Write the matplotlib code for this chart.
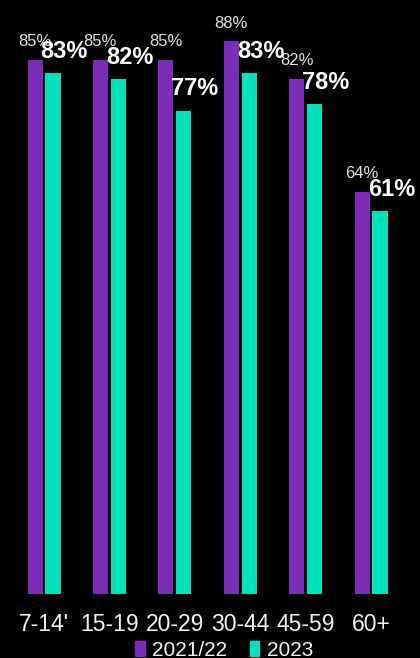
import numpy as np
import matplotlib
matplotlib.use('Agg')
import matplotlib.pyplot as plt
from matplotlib.patches import Patch
from matplotlib.transforms import offset_copy

plt.rcParams['font.family'] = ['Liberation Sans', 'DejaVu Sans']

age_groups = ["7-14'", '15-19', '20-29', '30-44', '45-59', '60+']
series_names = ['2021/22', '2023']
vals_2122 = [85, 85, 85, 88, 82, 64]
vals_2023 = [83, 82, 77, 83, 78, 61]

PURPLE = '#7B2DB8'
TEAL = '#00E3BC'

fig = plt.figure(figsize=(4.2, 6.58), dpi=100, facecolor='black')
ax = fig.add_axes([0, 1 - 594 / 658, 1, 594 / 658])
ax.set_facecolor('black')

x = np.arange(len(age_groups))
w = 0.23
off = 0.1375
b1 = ax.bar(x - off, vals_2122, w, color=PURPLE)
b2 = ax.bar(x + off, vals_2023, w, color=TEAL)

ax.set_xlim(-0.673, 5.749)
ax.set_ylim(0, 94.6)

# small grey labels for 2021/22
for rect, v in zip(b1, vals_2122):
    tr = offset_copy(ax.transData, fig=fig, x=0, y=10, units='points')
    ax.text(rect.get_x() + rect.get_width() / 2, v, f'{v}%', transform=tr,
            ha='center', va='baseline', color='#e0e0e0', fontsize=12)

# bold white labels for 2023
for rect, v in zip(b2, vals_2023):
    tr = offset_copy(ax.transData, fig=fig, x=-3.5, y=11, units='points')
    ax.text(rect.get_x(), v, f'{v}%', transform=tr,
            ha='left', va='baseline', color='white', fontsize=17, fontweight='bold')

ax.set_xticks(x)
ax.set_xticklabels(age_groups, fontsize=16.5, color='#f2f2f2')
ax.tick_params(axis='x', length=0, pad=14)
ax.set_yticks([])
for s in ax.spines.values():
    s.set_visible(False)

handles = [Patch(color=PURPLE), Patch(color=TEAL)]
fig.legend(handles, series_names, loc='center', bbox_to_anchor=(224 / 420, 1 - 650 / 658),
           ncol=2, frameon=False, fontsize=15, labelcolor='#f2f2f2',
           handlelength=0.45, handleheight=0.7, handletextpad=0.35, columnspacing=1.1,
           borderpad=0, borderaxespad=0)

fig.savefig('out.png', dpi=100, facecolor='black')
